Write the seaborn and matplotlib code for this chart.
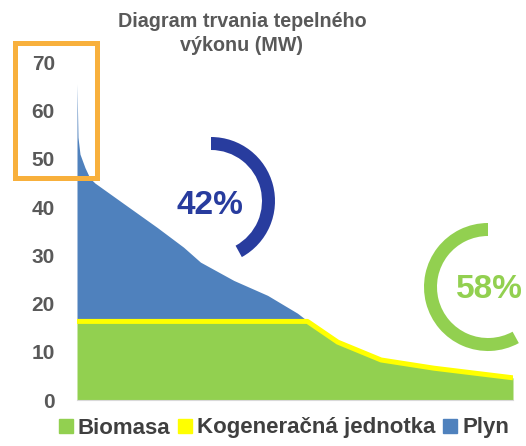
import numpy as np
import pandas as pd
import seaborn as sns
import matplotlib.pyplot as plt
from matplotlib.patches import Wedge, Rectangle
from matplotlib.lines import Line2D

# hodiny v roku (usporiadane podla vykonu) a vykon v MW odcitany z grafu
hours = [0, 20, 60, 160, 260, 360, 930, 1610, 2140, 2480, 3150, 3830, 4430, 4630, 5240, 6110, 7170, 8760]
total_mw = [65.6, 54.5, 51.0, 48.2, 46.0, 45.0, 40.8, 35.8, 31.7, 28.6, 24.8, 21.7, 18.0, 16.4, 12.0, 8.3, 6.6, 4.6]
biomass_mw = [16.3, 16.3, 16.3, 16.3, 16.3, 16.3, 16.3, 16.3, 16.3, 16.3, 16.3, 16.3, 16.3, 16.3, 12.0, 8.3, 6.6, 4.6]
share_gas = 42
share_biomass = 58
legend_labels = ["Biomasa", "Kogeneračná jednotka", "Plyn"]
y_ticks = [0, 10, 20, 30, 40, 50, 60, 70]
title = "Diagram trvania tepelného\nvýkonu (MW)"

df = pd.DataFrame({"hodiny": hours, "spolu": total_mw, "biomasa": biomass_mw})

c_green = "#92D050"
c_yellow = "#FFFF00"
c_blue = "#4F81BD"
c_dark = "#283C9E"
c_orange = "#F8B03C"
c_text = "#595959"

sns.set_style("white")
plt.rcParams["font.family"] = ["Liberation Sans", "DejaVu Sans"]

W, H = 526, 446
fig = plt.figure(figsize=(W / 100, H / 100), dpi=100)
ax = fig.add_axes([77 / W, (H - 400) / H, 436 / W, 337.5 / H])

ax.fill_between(df["hodiny"], 0, df["biomasa"], color=c_green, lw=0, zorder=1)
ax.fill_between(df["hodiny"], df["biomasa"], df["spolu"], color=c_blue, lw=0, zorder=1)
sns.lineplot(data=df, x="hodiny", y="biomasa", color=c_yellow, lw=3.6, ax=ax, zorder=2,
             solid_capstyle="butt")

ax.set_xlim(0, 8760)
ax.set_ylim(0, 70)
ax.set_xticks([])
ax.set_yticks(y_ticks)
ax.set_yticklabels([str(t) for t in y_ticks], fontsize=15, fontweight="bold", color=c_text)
ax.tick_params(axis="y", length=0, pad=16)
ax.set_xlabel("")
ax.set_ylabel("")
for s in ["top", "left", "right"]:
    ax.spines[s].set_visible(False)
ax.spines["bottom"].set_color("#D9D9D9")
ax.spines["bottom"].set_linewidth(0.8)

# overlay v pixeloch pre kruhove ukazovatele a oranzovy ramcek
ov = fig.add_axes([0, 0, 1, 1], zorder=5)
ov.set_xlim(0, W)
ov.set_ylim(0, H)
ov.axis("off")
ov.patch.set_alpha(0)

gas_deg = share_gas / 100 * 360
ov.add_patch(Wedge((211, H - 201), 64, 90 - gas_deg, 90, width=13, color=c_dark, lw=0))
ov.text(210, H - 205, f"{share_gas}%", ha="center", va="center", fontsize=24,
        fontweight="bold", color=c_dark)

bio_deg = share_biomass / 100 * 360
ov.add_patch(Wedge((488, H - 287), 64, 90, 90 + bio_deg, width=13, color=c_green, lw=0))
ov.text(489, H - 289, f"{share_biomass}%", ha="center", va="center", fontsize=24,
        fontweight="bold", color=c_green)

ov.add_patch(Rectangle((14.5, H - 177.5), 82, 135, fill=False, ec=c_orange, lw=3.6))

fig.text(242 / W, 1 - 12 / H, title, ha="center", va="top", fontsize=14.2,
         fontweight="bold", color=c_text, linespacing=1.35)

handles = [Line2D([], [], ls="none", marker="s", markersize=9.5, color=c)
           for c in [c_green, c_yellow, c_blue]]
fig.legend(handles, legend_labels, loc="center", bbox_to_anchor=(284 / W, 1 - 428 / H),
           ncol=3, frameon=False, handlelength=0.6, handletextpad=0.25,
           columnspacing=0.35, borderpad=0,
           prop={"size": 16, "weight": "bold"}, labelcolor="#3F3F3F")

plt.savefig("out.png", dpi=100)
